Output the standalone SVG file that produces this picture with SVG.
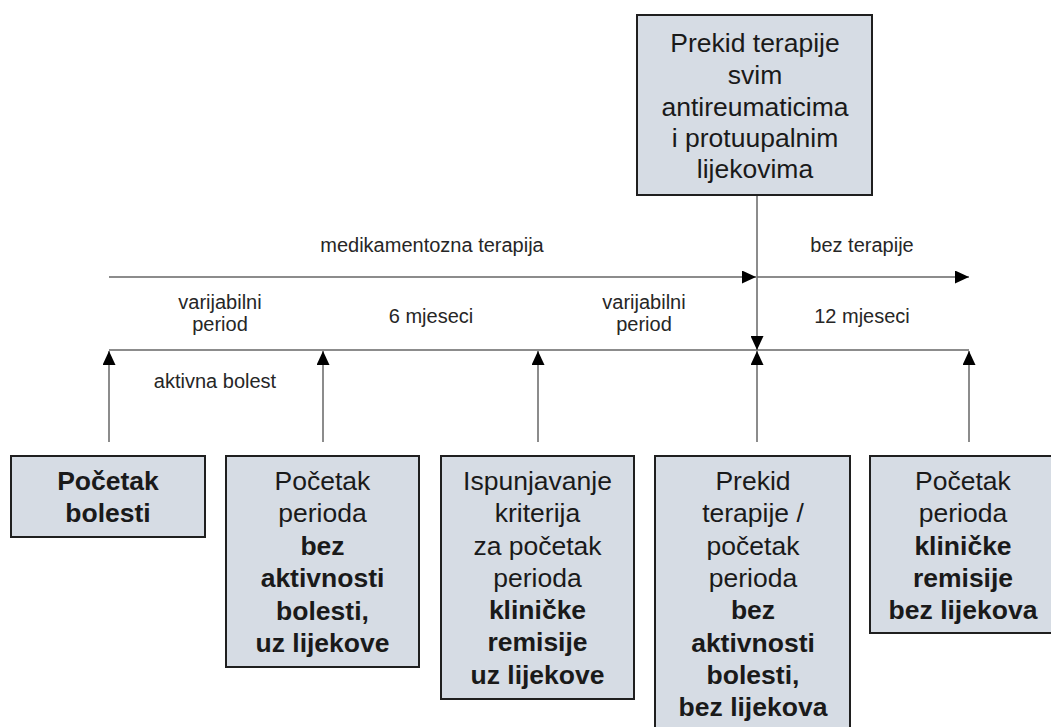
<svg xmlns="http://www.w3.org/2000/svg" width="1051" height="727" viewBox="0 0 1051 727">
  <defs>
    <marker id="ah" viewBox="0 0 10 10" refX="10" refY="5" markerUnits="userSpaceOnUse" markerWidth="14" markerHeight="13" orient="auto" preserveAspectRatio="none">
      <path d="M0,0 L10,5 L0,10 z" fill="#000"/>
    </marker>
    <style>
      .box { fill: #D6DCE4; stroke: #1f1f1f; stroke-width: 2; }
      .t { font-family: "Liberation Sans", Arial, sans-serif; font-size: 26.5px; fill: #1a1a1a; text-anchor: middle; }
      .b { font-weight: bold; }
      .lbl { font-family: "Liberation Sans", Arial, sans-serif; font-size: 20px; fill: #262626; text-anchor: middle; }
      .ln { stroke: #666; stroke-width: 1.5; fill: none; }
      .arr { stroke: #666; stroke-width: 1.5; fill: none; marker-end: url(#ah); }
    </style>
  </defs>
  <rect width="1051" height="727" fill="#fff"/>

  <g id="connectors">
    <line class="arr" x1="109" y1="277" x2="756" y2="277"/>
    <line class="arr" x1="757" y1="277" x2="969" y2="277"/>
    <line class="ln" x1="109" y1="350" x2="969" y2="350"/>
    <line class="arr" x1="757" y1="195" x2="757" y2="350"/>
    <line class="arr" x1="109" y1="442" x2="109" y2="351"/>
    <line class="arr" x1="323" y1="442" x2="323" y2="351"/>
    <line class="arr" x1="538" y1="442" x2="538" y2="351"/>
    <line class="arr" x1="757" y1="442" x2="757" y2="351"/>
    <line class="arr" x1="969" y1="442" x2="969" y2="351"/>
  </g>

  <g id="labels">
    <text class="lbl" x="432" y="252">medikamentozna terapija</text>
    <text class="lbl" x="862" y="252">bez terapije</text>
    <text class="lbl" x="220" y="309">varijabilni</text>
    <text class="lbl" x="220" y="331">period</text>
    <text class="lbl" x="431" y="323">6 mjeseci</text>
    <text class="lbl" x="644" y="309">varijabilni</text>
    <text class="lbl" x="644" y="331">period</text>
    <text class="lbl" x="862" y="323">12 mjeseci</text>
    <text class="lbl" x="215" y="388">aktivna bolest</text>
  </g>

  <g id="node-prekid-top">
    <rect class="box" x="637" y="15" width="235" height="180"/>
    <text class="t" x="755" y="52">Prekid terapije</text>
    <text class="t" x="755" y="84">svim</text>
    <text class="t" x="755" y="116">antireumaticima</text>
    <text class="t" x="755" y="147">i protuupalnim</text>
    <text class="t" x="755" y="178">lijekovima</text>
  </g>

  <g id="node-pocetak-bolesti">
    <rect class="box" x="11" y="456" width="194" height="81"/>
    <text class="t b" x="108" y="490">Početak</text>
    <text class="t b" x="108" y="522">bolesti</text>
  </g>

  <g id="node-bez-aktivnosti">
    <rect class="box" x="226" y="456" width="193" height="211"/>
    <text class="t" x="322.5" y="490">Početak</text>
    <text class="t" x="322.5" y="522">perioda</text>
    <text class="t b" x="322.5" y="555">bez</text>
    <text class="t b" x="322.5" y="587">aktivnosti</text>
    <text class="t b" x="322.5" y="620">bolesti,</text>
    <text class="t b" x="322.5" y="652">uz lijekove</text>
  </g>

  <g id="node-ispunjavanje">
    <rect class="box" x="441" y="456" width="193" height="243"/>
    <text class="t" x="537.5" y="490">Ispunjavanje</text>
    <text class="t" x="537.5" y="522">kriterija</text>
    <text class="t" x="537.5" y="555">za početak</text>
    <text class="t" x="537.5" y="587">perioda</text>
    <text class="t b" x="537.5" y="619">kliničke</text>
    <text class="t b" x="537.5" y="651">remisije</text>
    <text class="t b" x="537.5" y="684">uz lijekove</text>
  </g>

  <g id="node-prekid-bottom">
    <rect class="box" x="655" y="456" width="195" height="280"/>
    <text class="t" x="753" y="490">Prekid</text>
    <text class="t" x="753" y="522">terapije /</text>
    <text class="t" x="753" y="555">početak</text>
    <text class="t" x="753" y="587">perioda</text>
    <text class="t b" x="753" y="619">bez</text>
    <text class="t b" x="753" y="652">aktivnosti</text>
    <text class="t b" x="753" y="684">bolesti,</text>
    <text class="t b" x="753" y="716">bez lijekova</text>
  </g>

  <g id="node-klinicke-remisije">
    <rect class="box" x="870" y="456" width="190" height="177"/>
    <text class="t" x="963" y="490">Početak</text>
    <text class="t" x="963" y="522">perioda</text>
    <text class="t b" x="963" y="555">kliničke</text>
    <text class="t b" x="963" y="587">remisije</text>
    <text class="t b" x="963" y="619">bez lijekova</text>
  </g>
</svg>
